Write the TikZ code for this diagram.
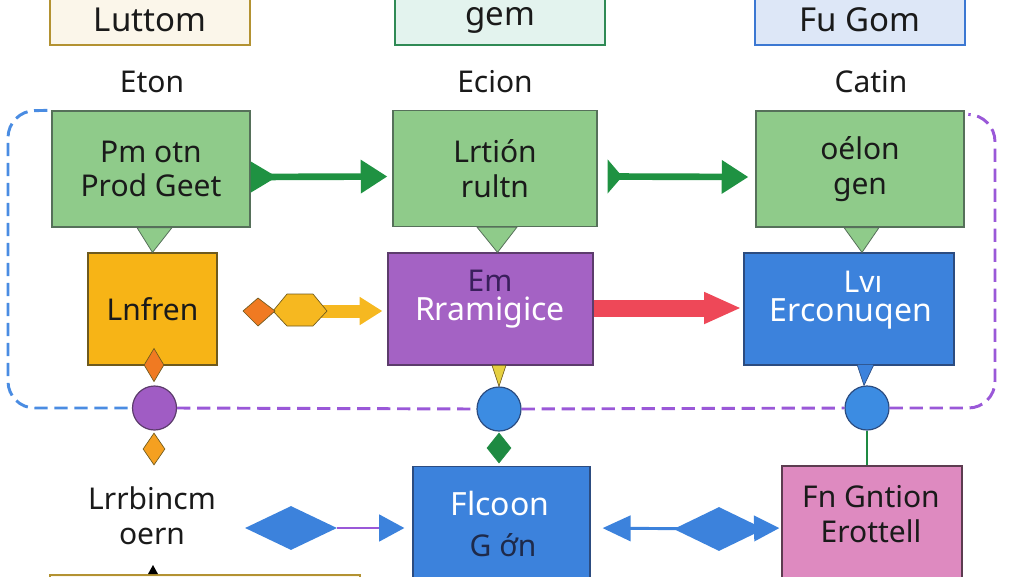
\documentclass[tikz,border=0pt]{standalone}
\usepackage{fontspec}
\setmainfont{Noto Sans}
\usepackage{xcolor}
\usetikzlibrary{arrows.meta,shapes.geometric,calc}

\definecolor{creamfill}{HTML}{FBF6EA}
\definecolor{oliveline}{HTML}{B39232}
\definecolor{mintfill}{HTML}{E3F3EE}
\definecolor{mintline}{HTML}{2F8A55}
\definecolor{skyfill}{HTML}{DDE7F7}
\definecolor{skyline}{HTML}{3C78D2}
\definecolor{leaffill}{HTML}{8FCB8A}
\definecolor{leafline}{HTML}{56705A}
\definecolor{arrowgreen}{HTML}{1F9242}
\definecolor{amberfill}{HTML}{F7B416}
\definecolor{amberline}{HTML}{6E5A1E}
\definecolor{violetfill}{HTML}{A462C4}
\definecolor{violetline}{HTML}{5C3C6C}
\definecolor{emtext}{HTML}{3A1F5C}
\definecolor{bluefill}{HTML}{3C82DC}
\definecolor{blueline}{HTML}{2C4C80}
\definecolor{pinkfill}{HTML}{DE8AC0}
\definecolor{pinkline}{HTML}{5C3C50}
\definecolor{redarrow}{HTML}{EE4858}
\definecolor{orangetip}{HTML}{F07A22}
\definecolor{goldarrow}{HTML}{F6B820}
\definecolor{yellowtip}{HTML}{E6D040}
\definecolor{orbpurple}{HTML}{A05CC4}
\definecolor{orbblue}{HTML}{3C8CE2}
\definecolor{gemgreen}{HTML}{1E8A42}
\definecolor{gemorange}{HTML}{F5A020}
\definecolor{loopblue}{HTML}{4A8CE2}
\definecolor{looppurple}{HTML}{9A58D8}
\definecolor{inktext}{HTML}{1A1A1A}
\definecolor{navytext}{HTML}{1E2A4A}

\begin{document}
\begin{tikzpicture}[x=0.75pt,y=0.75pt,yscale=-1,xscale=1,
  box/.style={draw, line width=0.9pt, inner sep=0pt, align=center, text=inktext, font=\fontsize{22.5}{26}\selectfont},
  topbox/.style={box, line width=1.8pt, minimum height=37.5pt, font=\fontsize{24.75}{28}\selectfont},
  leafbox/.style={box, fill=leaffill, draw=leafline, minimum height=87pt},
  txt/.style={inner sep=0pt, align=center, text=inktext, font=\fontsize{22.5}{26}\selectfont},
  bigtxt/.style={txt, text=white, font=\fontsize{24}{28}\selectfont},
  orb/.style={circle, line width=0.9pt, minimum size=33pt, inner sep=0pt},
  gem/.style={diamond, draw=amberline, line width=0.5pt, inner sep=0pt},
  bluedart/.style={diamond, fill=bluefill, inner sep=0pt, minimum width=69pt, minimum height=33pt},
  greenarrow/.style={draw=arrowgreen, line width=5pt, {Triangle[reversed,length=20pt,width=22pt]}-{Triangle[length=20pt,width=24pt]}},
  bluelink/.style={draw=bluefill, line width=2.2pt},
  dashloop/.style={line width=2.2pt, dash pattern=on 10pt off 5pt}]
\useasboundingbox (0,0) rectangle (1024,576);
\clip (0,0) rectangle (1024,576);
%Shape: Rectangle (top row)
\node[topbox, fill=creamfill, draw=oliveline, minimum width=150pt] (tl) at (150,20) {Luttom};
\node[topbox, fill=mintfill, draw=mintline, minimum width=157.5pt] (tm) at (500,20) {gem};
\node[topbox, fill=skyfill, draw=skyline, minimum width=157.5pt] (tr) at (860,20) {Fu Gom};
% Text Node
\node[txt] (el) at (152,82) {Eton};
\node[txt] (em) at (495,82) {Ecion};
\node[txt] (er) at (871,82) {Catin};
%Shape: Rectangle (green row)
\node[leafbox, minimum width=148.5pt] (g1) at (151,169) {Pm otn\\Prod Geet};
\node[leafbox, minimum width=153pt] (g2) at (495,168.5) {Lrtión\\rultn};
\node[leafbox, minimum width=156pt] (g3) at (860,169) {oélon\\gen};
%Shape: Rectangle (middle row)
\node[box, fill=amberfill, draw=amberline, minimum width=96.75pt, minimum height=84pt] (o1) at (152.5,309) {Lnfren};
\node[box, fill=violetfill, draw=violetline, minimum width=153.75pt, minimum height=84pt] (p1) at (490.5,309) {};
\node[box, fill=bluefill, draw=blueline, minimum width=157.5pt, minimum height=84pt] (b1) at (849,309) {};
% Text Node
\node[bigtxt] (p1t) at (490,299) {{\color{emtext}\fontsize{22.5}{26}\selectfont Em}\\[-6pt]Rramigice};
\node[bigtxt] (b1t) at (851,300) {\hspace*{18pt}{\fontsize{22.5}{26}\selectfont Lvı}\\[-6pt]Erconuqen};
%Shape: Rectangle (bottom row)
\node[box, fill=bluefill, draw=blueline, minimum width=132.75pt, minimum height=92pt] (b2) at (501.5,528) {};
\node[box, fill=pinkfill, draw=pinkline, minimum width=135pt, minimum height=93pt] (pk) at (872,528) {};
\node[box, fill=creamfill, draw=oliveline, line width=1.5pt, minimum width=232.5pt, minimum height=37.5pt] (bl) at (205,600) {};
% Text Node
\node[bigtxt] (b2a) at (500,503) {Flcoon};
\node[txt, text=navytext] (b2b) at (503,545) {G ớn};
\node[txt] (pkt) at (871,514) {Fn Gntion\\Erottell};
\node[txt] (lb) at (152,516) {Lrrbincm\\oern};
%Shape: Triangle (pointers)
\filldraw[fill=leaffill, draw=leafline, line width=0.6pt] ($(g1.south)+(-14,0)$) -- ($(g1.south)+(21,0)$) -- (o1.north) -- cycle;
\filldraw[fill=leaffill, draw=leafline, line width=0.6pt] ($(g2.south)+(-18,0)$) -- ($(g2.south)+(22,0)$) -- ($(p1.north)+(7,0)$) -- cycle;
\filldraw[fill=leaffill, draw=leafline, line width=0.6pt] ($(g3.south)+(-16,0)$) -- ($(g3.south)+(19,0)$) -- ($(b1.north)+(13,0)$) -- cycle;
\fill[black] ($(bl.north)+(-57,0)$) -- ($(bl.north)+(-47,0)$) -- ($(bl.north)+(-52,-9)$) -- cycle;
%Shape: Circle and Diamond
\node[gem, fill=orangetip, minimum width=15pt, minimum height=25pt] (od1) at (154,365) {};
\node[orb, fill=orbpurple, draw=violetline] (c1) at (154.5,408) {};
\node[gem, fill=gemorange, minimum width=16.5pt, minimum height=24pt] (od2) at (154,449) {};
\node[orb, fill=orbblue, draw=blueline] (c2) at (499,409) {};
\node[gem, fill=gemgreen, draw=gemgreen, minimum width=18pt, minimum height=22.5pt] (gd) at (499,448) {};
\node[orb, fill=orbblue, draw=blueline] (c3) at (867,408) {};
\filldraw[fill=yellowtip, draw=amberline, line width=0.5pt] ($(c2.north)+(-7,-21)$) -- ($(c2.north)+(7,-21)$) -- (c2.north) -- cycle;
\filldraw[fill=bluefill, draw=blueline, line width=0.5pt] ($(c3.north)+(-10,-21)$) -- ($(c3.north)+(7,-21)$) -- ($(c3.north)+(-3,0)$) -- cycle;
%Straight Lines
\draw[draw=gemgreen, line width=2.2pt] (c3.south) -- (c3.south |- pk.north);
\draw[greenarrow] ($(g1.east)+(0,8)$) -- ($(g2.west)+(-5,8)$);
\draw[greenarrow, {Triangle[reversed,length=11pt,width=25pt]}-{Triangle[length=20pt,width=24pt]}] ($(g2.east)+(10,8)$) -- ($(g3.west)+(-7,8)$);
\draw[draw=redarrow, line width=12.75pt, -{Triangle[length=28pt,width=22pt]}] ($(p1.east)+(0,-1)$) -- ($(b1.west)+(-2,-1)$);
% gold arrow with hexagon and orange tail
\draw[draw=goldarrow, line width=9.75pt, -{Triangle[length=17pt,width=20pt]}] ($(o1.east)+(80,2)$) -- ($(p1.west)+(-5,2)$);
\filldraw[fill=goldarrow, draw=amberline, line width=0.5pt] (273,311) -- (287,294) -- (313,294) -- (327,311) -- (313,326) -- (287,326) -- cycle;
\filldraw[fill=orangetip, draw=amberline, line width=0.5pt] (243,311) -- (258,298) -- (275,311) -- (258,326) -- cycle;
% blue diamond arrows
\node[bluedart] (ld) at (291,528) {};
\draw[draw=looppurple, line width=2.2pt, -{Triangle[length=19pt,width=20pt,color=bluefill]}, shorten >=6pt] (ld.east) -- (b2.west);
\node[bluedart, minimum width=68pt] (rd) at (719,529) {};
\draw[bluelink, -{Triangle[length=21pt,width=19pt]}, shorten >=9pt] (rd.center) -- (b2.east);
\draw[bluelink, -{Triangle[length=19pt,width=19pt]}, shorten >=1.5pt] (rd.center) -- (pk.west);
% dashed loops
\draw[dashloop, draw=loopblue, rounded corners=20pt] ($(g1.north west)+(-4,0)$) -- (8,111) -- (8,408) -- (c1.west);
\draw[dashloop, draw=looppurple] (c1.east) -- (c2.west);
\draw[dashloop, draw=looppurple] (c2.east) -- (c3.west);
\draw[dashloop, draw=looppurple, rounded corners=20pt] (c3.east) -- (995,408) -- (995,115) -- ($(g3.north east)+(4,4)$);
\end{tikzpicture}
\end{document}
